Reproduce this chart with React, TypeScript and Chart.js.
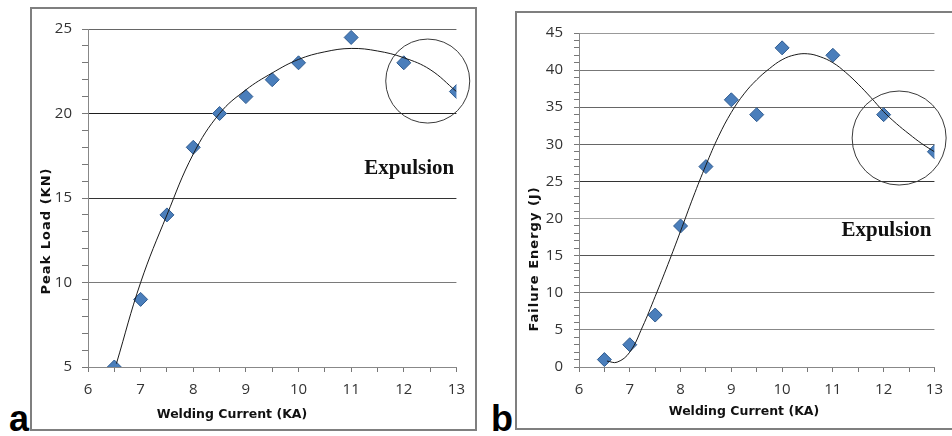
import React, { useEffect, useRef } from "react";
import { Chart, registerables } from "chart.js";

Chart.register(...registerables);

// ---- data ----
const currentKA = [6.5, 7, 7.5, 8, 8.5, 9, 9.5, 10, 11, 12, 13];
const peakLoadKN = [5, 9, 14, 18, 20, 21, 22, 23, 24.5, 23, 21.3];
const failureEnergyJ = [1, 3, 7, 19, 27, 36, 34, 43, 42, 34, 29];

// trend curves
const loadTrendX = [6.54, 7, 7.5, 8, 8.5, 9, 9.5, 10, 10.5, 11, 11.5, 12, 12.5, 13];
const loadTrendY = [5.2, 10.0, 14.0, 17.6, 20.0, 21.4, 22.4, 23.2, 23.65, 23.85, 23.7, 23.3, 22.6, 21.3];
const energyTrendX = [6.55, 6.75, 7, 7.25, 7.5, 7.75, 8, 8.25, 8.5, 8.75, 9, 9.25, 9.5, 9.75, 10, 10.25, 10.5, 10.75, 11, 11.25, 11.5, 11.75, 12, 12.25, 12.5, 12.75, 13];
const energyTrendY = [0.8, 0.65, 2.0, 5.4, 9.5, 13.8, 18.3, 22.9, 27.2, 31.1, 34.3, 36.8, 38.7, 40.2, 41.4, 42.05, 42.2, 41.8, 41.0, 39.7, 38.1, 36.3, 34.4, 32.8, 31.4, 30.1, 29.0];

const xTitle = "Welding Current (KA)";
const loadTitle = "Peak Load (KN)";
const energyTitle = "Failure Energy (J)";
const noteText = "Expulsion";

const annotPlugin = {
  id: "annot",
  afterDatasetsDraw(chart: any, _args: any, opts: any) {
    const { ctx } = chart;
    const x = chart.scales.x;
    const y = chart.scales.y;
    ctx.save();
    // circle
    ctx.beginPath();
    ctx.arc(
      x.getPixelForValue(opts.circle.x),
      y.getPixelForValue(opts.circle.y),
      opts.circle.r,
      0,
      Math.PI * 2
    );
    ctx.strokeStyle = "#3a3a3a";
    ctx.lineWidth = 1;
    ctx.stroke();
    // note
    ctx.font = 'bold 21px "Liberation Serif"';
    ctx.fillStyle = "#111";
    ctx.textBaseline = "alphabetic";
    ctx.textAlign = "left";
    ctx.fillText(opts.note.text, x.getPixelForValue(opts.note.x), y.getPixelForValue(opts.note.y));
    // axis titles
    ctx.fillStyle = "#111";
    ctx.textAlign = "center";
    ctx.textBaseline = "middle";
    ctx.font = 'bold 12.5px "DejaVu Sans"';
    ctx.fillText(opts.xTitle.text, opts.xTitle.cx, opts.xTitle.cy);
    ctx.font = 'bold 13px "DejaVu Sans"';
    try {
      (ctx as any).letterSpacing = "1px";
    } catch (e) {}
    ctx.translate(opts.yTitle.cx, opts.yTitle.cy);
    ctx.rotate(-Math.PI / 2);
    ctx.fillText(opts.yTitle.text, 0, 0);
    try {
      (ctx as any).letterSpacing = "0px";
    } catch (e) {}
    ctx.restore();
  },
};

function makeConfig(p: {
  ys: number[];
  tx: number[];
  ty: number[];
  ymin: number;
  ymax: number;
  gridColors: Record<number, string>;
  yWidth: number;
  xHeight: number;
  padRight: number;
  padTop: number;
  yTickLen: number;
  annot: any;
}) {
  return {
    type: "scatter" as const,
    data: {
      datasets: [
        {
          data: p.tx.map((v, i) => ({ x: v, y: p.ty[i] })),
          showLine: true,
          pointRadius: 0,
          borderColor: "#1a1a1a",
          borderWidth: 1,
          tension: 0.4,
          order: 0,
        },
        {
          data: currentKA.map((v, i) => ({ x: v, y: p.ys[i] })),
          showLine: false,
          pointStyle: "rectRot",
          pointRadius: 7,
          backgroundColor: "#4a7ebb",
          borderColor: "#2f5b8f",
          borderWidth: 1,
          order: 1,
        },
      ],
    },
    options: {
      responsive: false,
      animation: false,
      layout: { padding: { top: p.padTop, right: p.padRight, left: 0, bottom: 0 } },
      plugins: {
        legend: { display: false },
        tooltip: { enabled: false },
        annot: p.annot,
      },
      scales: {
        x: {
          type: "linear",
          min: 6,
          max: 13,
          afterFit: (s: any) => {
            s.height = p.xHeight;
          },
          ticks: {
            stepSize: 0.5,
            autoSkip: false,
            maxRotation: 0,
            padding: 9,
            color: "#333",
            font: { family: "Open Sans", size: 15 },
            callback: (v: any) => (Number.isInteger(v) ? String(v) : ""),
          },
          grid: {
            drawOnChartArea: false,
            tickLength: 5,
            tickColor: "#777",
          },
          border: { display: true, color: "#888", width: 1 },
        },
        y: {
          type: "linear",
          min: p.ymin,
          max: p.ymax,
          afterFit: (s: any) => {
            s.width = p.yWidth;
          },
          ticks: {
            stepSize: 1,
            autoSkip: false,
            padding: 16 - p.yTickLen,
            color: "#333",
            font: { family: "Open Sans", size: 15 },
            callback: (v: any) => (v % 5 === 0 ? String(v) : ""),
          },
          grid: {
            tickLength: p.yTickLen,
            tickColor: "#777",
            color: (c: any) => {
              const v = c.tick ? c.tick.value : 0;
              if (v % 5 !== 0) return "rgba(0,0,0,0)";
              return p.gridColors[v] || "#888";
            },
          },
          border: { display: true, color: "#888", width: 1 },
        },
      },
    },
    plugins: [annotPlugin],
  };
}

function ChartCanvas(props: { config: any; left: number; top: number; width: number; height: number }) {
  const ref = useRef<HTMLCanvasElement | null>(null);
  useEffect(() => {
    if (!ref.current) return;
    const chart = new Chart(ref.current, props.config);
    return () => chart.destroy();
  }, []);
  return (
    <canvas
      ref={ref}
      width={props.width}
      height={props.height}
      style={{
        position: "absolute",
        left: props.left,
        top: props.top,
        width: props.width,
        height: props.height,
      }}
    />
  );
}

export default function App() {
  const leftCfg = makeConfig({
    ys: peakLoadKN,
    tx: loadTrendX,
    ty: loadTrendY,
    ymin: 5,
    ymax: 25,
    gridColors: { 25: "#666", 20: "#1e1e1e", 15: "#333", 10: "#7a7a7a", 5: "#888" },
    yWidth: 56,
    xHeight: 62,
    padRight: 13,
    padTop: 20,
    yTickLen: 6,
    annot: {
      circle: { x: 12.455, y: 21.92, r: 42 },
      note: { text: noteText, x: 11.25, y: 16.4 },
      xTitle: { text: xTitle, cx: 200, cy: 406 },
      yTitle: { text: loadTitle, cx: 15, cy: 222 },
    },
  });
  const rightCfg = makeConfig({
    ys: failureEnergyJ,
    tx: energyTrendX,
    ty: energyTrendY,
    ymin: 0,
    ymax: 45,
    gridColors: { 45: "#999", 40: "#777", 35: "#666", 30: "#666", 25: "#333", 20: "#aaa", 15: "#555", 10: "#777", 5: "#888", 0: "#888" },
    yWidth: 62,
    xHeight: 60,
    padRight: 10,
    padTop: 20,
    yTickLen: 5,
    annot: {
      circle: { x: 12.305, y: 30.85, r: 47 },
      note: { text: noteText, x: 11.17, y: 17.65 },
      xTitle: { text: xTitle, cx: 227, cy: 399 },
      yTitle: { text: energyTitle, cx: 18, cy: 246 },
    },
  });

  const letter: React.CSSProperties = {
    position: "absolute",
    fontFamily: '"Liberation Sans", Arial, sans-serif',
    fontWeight: "bold",
    fontSize: 36,
    lineHeight: "36px",
    color: "#000",
  };

  return (
    <div
      style={{
        position: "absolute",
        left: 0,
        top: 0,
        width: 952,
        height: 436,
        background: "#fff",
        overflow: "hidden",
      }}
    >
      <div
        style={{
          position: "absolute",
          left: 30,
          top: 7,
          width: 447,
          height: 424,
          border: "2px solid #7f7f7f",
          boxSizing: "border-box",
        }}
      />
      <div
        style={{
          position: "absolute",
          left: 515,
          top: 11,
          width: 460,
          height: 419,
          border: "2px solid #7f7f7f",
          boxSizing: "border-box",
        }}
      />
      <ChartCanvas config={leftCfg} left={32} top={9} width={442} height={420} />
      <ChartCanvas config={rightCfg} left={517} top={13} width={435} height={414} />
      <div style={{ ...letter, left: 9, top: 401 }}>a</div>
      <div style={{ ...letter, left: 491, top: 401 }}>b</div>
    </div>
  );
}
